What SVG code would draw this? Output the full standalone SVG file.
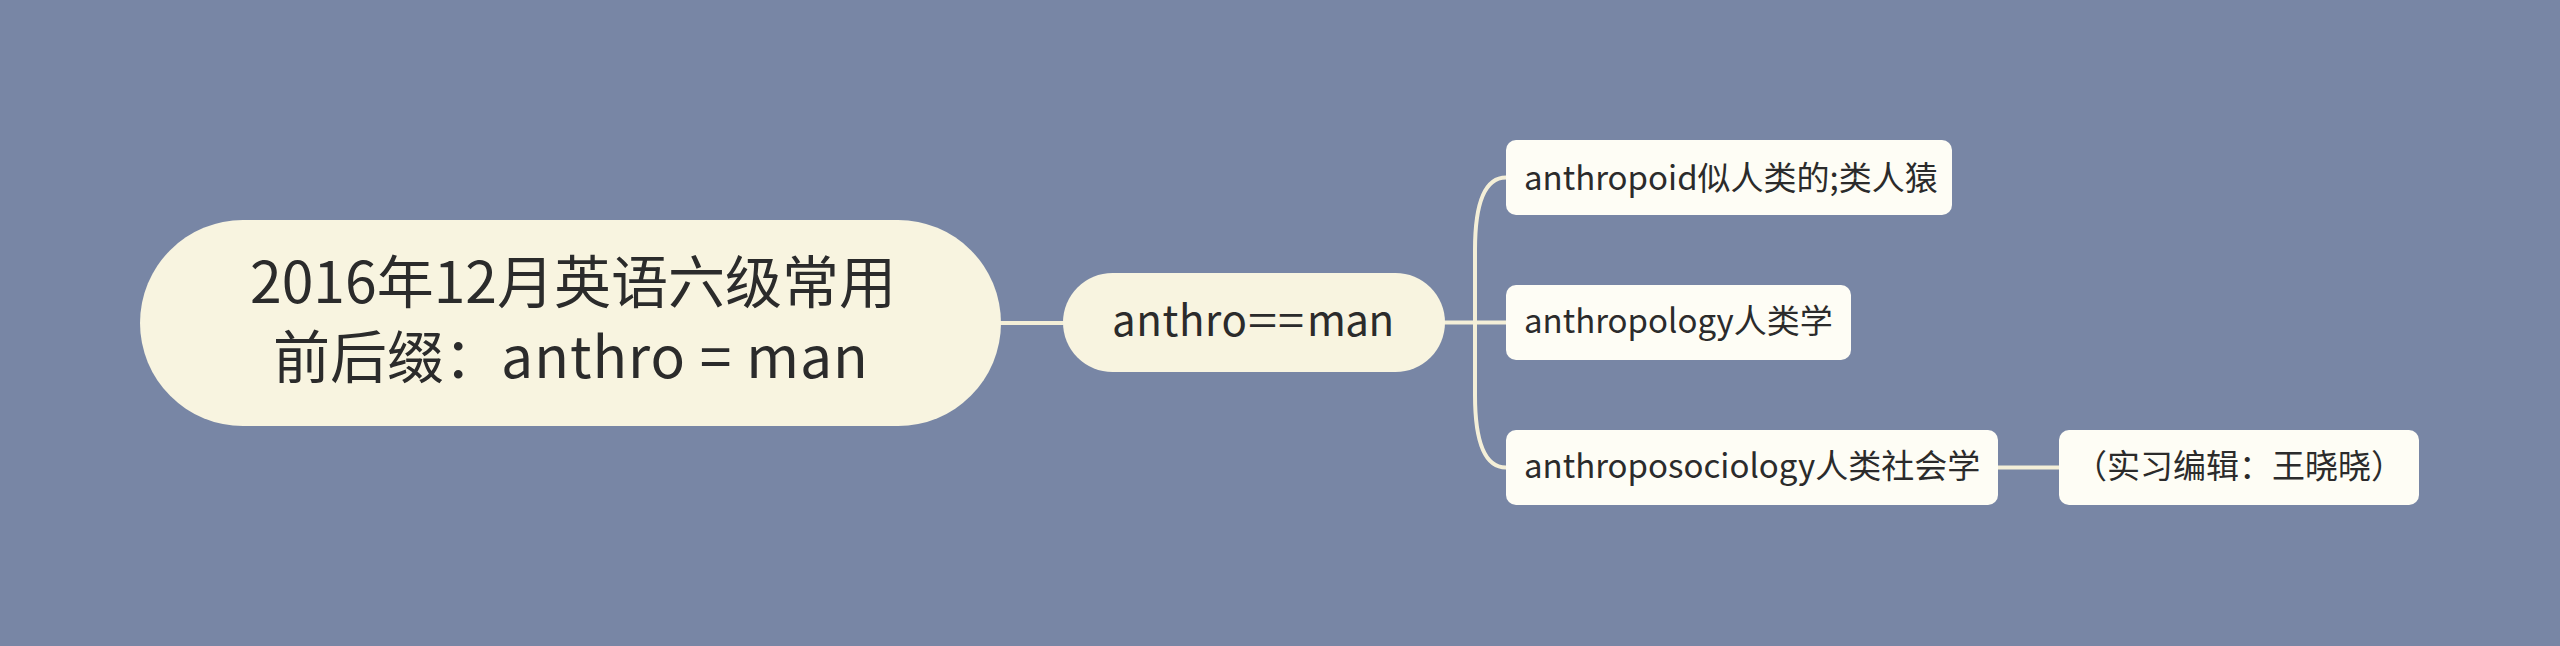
<svg xmlns="http://www.w3.org/2000/svg" width="2560" height="646" viewBox="0 0 2560 646">
<style>
text{font-family:"Noto Sans CJK SC","Noto Sans",sans-serif;fill:#2b2b2b}
.big{fill:#f8f4e0}
.leaf{fill:#fefdf5}
.ln{fill:none;stroke:#f4efd8;stroke-width:4;stroke-linecap:round}
</style>
<rect width="2560" height="646" fill="#7886a5"/>
<g id="connectors">
<path class="ln" d="M1000 323 H1063"/>
<path class="ln" d="M1445 322.5 H1506"/>
<path class="ln" d="M1475 322.5 V250 Q1475 177.5 1506 177.5"/>
<path class="ln" d="M1475 322.5 V395 Q1475 467.5 1506 467.5"/>
<path class="ln" d="M1998 467.5 H2059"/>
</g>
<g id="root">
<rect class="big" x="140" y="220" width="861" height="206" rx="103"/>
<text x="573" y="303" font-size="57" text-anchor="middle">2016年12月英语六级常用</text>
<text x="571" y="378" font-size="57" text-anchor="middle">前后缀：<tspan letter-spacing="1">anthro = man</tspan></text>
</g>
<g id="main">
<rect class="big" x="1063" y="273" width="382" height="99" rx="49.5"/>
<text y="336" font-size="42"><tspan x="1112" textLength="135">anthro</tspan><tspan x="1248" textLength="29" lengthAdjust="spacingAndGlyphs">=</tspan><tspan x="1278" textLength="26" lengthAdjust="spacingAndGlyphs">=</tspan><tspan x="1307" textLength="87">man</tspan></text>
</g>
<g id="n1">
<rect class="leaf" x="1506" y="140" width="446" height="75" rx="10"/>
<text x="1524" y="190" font-size="33">anthropoid似人类的;类人猿</text>
</g>
<g id="n2">
<rect class="leaf" x="1506" y="285" width="345" height="75" rx="10"/>
<text x="1524" y="333" font-size="33">anthropology人类学</text>
</g>
<g id="n3">
<rect class="leaf" x="1506" y="430" width="492" height="75" rx="10"/>
<text x="1524" y="478" font-size="33">anthroposociology人类社会学</text>
</g>
<g id="n4">
<rect class="leaf" x="2059" y="430" width="360" height="75" rx="10"/>
<text x="2239" y="478" font-size="33" text-anchor="middle">（实习编辑：王晓晓）</text>
</g>
</svg>
